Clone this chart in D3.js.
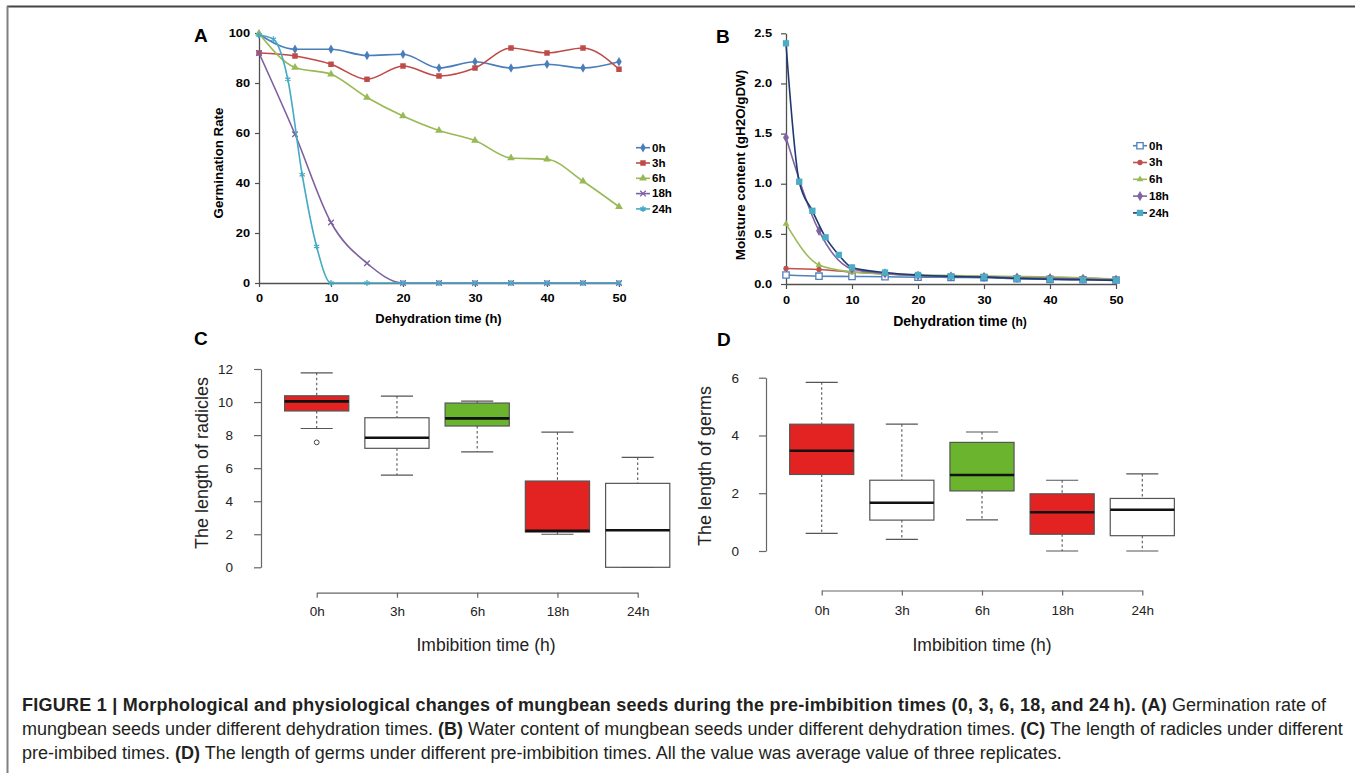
<!DOCTYPE html>
<html><head><meta charset="utf-8">
<script src="https://cdn.jsdelivr.net/npm/d3@7"></script>
<style>
body{margin:0;background:#fff;}
svg{display:block;}
</style></head><body>
<svg id="fig" width="1355" height="773"></svg>
<script>
// ---------------- DATA ----------------
const seriesNames = ["0h","3h","6h","18h","24h"];
const dehydHours = [0,5,10,15,20,25,30,35,40,45,50];
const dehydHours24 = [0,2,4,6,8,10,15,20,25,30,35,40,45,50];
const hourTicks = [0,10,20,30,40,50];

// Panel A: germination rate
const germ0h  = [99.5,93.5,93.5,91,91.5,86,88.5,86,87.5,86,88.5];
const germ3h  = [92,90.8,87.5,81.5,86.8,82.8,86,94,92,94,85.5];
const germ6h  = [99.8,86.2,83.5,74.2,66.8,61,57,50,49.5,40.7,30.5];
const germ18h = [92,59.5,24.2,7.9,0,0,0,0,0,0,0];
const germ24h = [99.2,97.5,81.5,43.3,14.6,0,0,0,0,0,0,0,0,0];
const germTicks = [0,20,40,60,80,100];

// Panel B: moisture content
const moist0h  = [0.09,0.078,0.075,0.072,0.068,0.066,0.064,0.052,0.046,0.042,0.04];
const moist3h  = [0.155,0.145,0.12,0.1,0.085,0.08,0.075,0.07,0.065,0.06,0.045];
const moist6h  = [0.6,0.19,0.12,0.1,0.09,0.085,0.08,0.075,0.07,0.062,0.05];
const moist18h = [1.46,0.53,0.15,0.105,0.082,0.075,0.07,0.062,0.056,0.05,0.042];
const moist24h = [2.4,1.02,0.73,0.465,0.29,0.165,0.115,0.09,0.076,0.07,0.056,0.047,0.042,0.036];
const moistTicks = [0,0.5,1,1.5,2,2.5];

// Panel C: radicle length boxplots
const imbCats = ["0h","3h","6h","18h","24h"];
const radLow  = [8.4,5.58,6.99,2.0,0];
const radQ1   = [9.46,7.2,8.55,2.13,0];
const radMed  = [10.04,7.84,9.01,2.21,2.24];
const radQ3   = [10.38,9.05,9.94,5.22,5.08];
const radHigh = [11.77,10.36,10.06,8.18,6.65];
const radOut  = [[7.56],[],[],[],[]];
const radTicks = [0,2,4,6,8,10,12];

// Panel D: germ length boxplots
const gerLow  = [0.61,0.4,1.08,0,0];
const gerQ1   = [2.65,1.07,2.08,0.58,0.53];
const gerMed  = [3.47,1.67,2.63,1.34,1.43];
const gerQ3   = [4.39,2.45,3.76,1.98,1.82];
const gerHigh = [5.84,4.39,4.12,2.45,2.67];
const gerOut  = [[],[],[],[],[]];
const gerTicks = [0,2,4,6];

// ---------------- STYLES ----------------
const F = '"Liberation Sans", Arial, Helvetica, sans-serif';
const colA = ["#4a7ebb","#be4b48","#98b954","#7d60a0","#46aac5"];
const symA = [d3.symbolDiamond, d3.symbolSquare, d3.symbolTriangle, d3.symbolTimes, d3.symbolAsterisk];
const sizeA = [26, 30, 26, 22, 26];
const lineB = ["#4f81bd","#c0504d","#9bbb59","#8064a2","#1f3a70"];
const markB = ["#4f81bd","#c0504d","#9bbb59","#8064a2","#4bacc6"];
const symB = [d3.symbolSquare, d3.symbolCircle, d3.symbolTriangle, d3.symbolDiamond, d3.symbolSquare];
const sizeB = [40, 22, 20, 30, 40];
const boxFill = ["#e32322","#ffffff","#6ab42e","#e32322","#ffffff"];

const svg = d3.select("#fig");

function stretch(sel, k){
  sel.each(function(){
    const w = this.getComputedTextLength();
    this.setAttribute("textLength", w*k);
    this.setAttribute("lengthAdjust","spacingAndGlyphs");
  });
}

// frame
svg.append("line").attr("x1",7).attr("x2",1355).attr("y1",6.5).attr("y2",6.5).attr("stroke","#444").attr("stroke-width",2);
svg.append("line").attr("x1",7.5).attr("x2",7.5).attr("y1",6).attr("y2",773).attr("stroke","#808080").attr("stroke-width",2);

function styleExcelAxis(g){
  g.select(".domain").attr("stroke","#505050").attr("stroke-width",1.3);
  g.selectAll(".tick line").attr("stroke","#505050").attr("stroke-width",1.2);
  g.selectAll(".tick text").attr("font-family",F).attr("font-weight","bold").attr("font-size",10).attr("fill","#000");
  stretch(g.selectAll(".tick text"), 1.28);
}

function panelLabel(t,x,y){
  svg.append("text").attr("x",x).attr("y",y).text(t).attr("font-family",F).attr("font-weight","bold").attr("font-size",19).attr("fill","#000");
}

// ---------------- PANEL A ----------------
const xA = d3.scaleLinear().domain([0,50]).range([259,619]);
const yA = d3.scaleLinear().domain([0,100]).range([283,33]);
const gA = svg.append("g");
gA.append("g").attr("transform","translate(259,0)")
  .call(d3.axisLeft(yA).tickValues(germTicks).tickSize(4).tickPadding(5).tickSizeOuter(0)).call(styleExcelAxis);
gA.append("g").attr("transform",`translate(0,${yA(0)})`)
  .call(d3.axisBottom(xA).tickValues(hourTicks).tickSize(4).tickPadding(8).tickSizeOuter(0)).call(styleExcelAxis);

const seriesA = [
  {xs: dehydHours, ys: germ0h},
  {xs: dehydHours, ys: germ3h},
  {xs: dehydHours, ys: germ6h},
  {xs: dehydHours, ys: germ18h},
  {xs: dehydHours24, ys: germ24h}
];
function drawSeries(g, series, xs, ys, lineCols, markCols, syms, sizes, hollow){
  series.forEach((s,k)=>{
    const pts = s.ys.map((v,i)=>[s.xs[i], v]);
    const line = d3.line().x(d=>xs(d[0])).y(d=>ys(d[1])).curve(d3.curveMonotoneX);
    g.append("path").attr("d",line(pts)).attr("fill","none").attr("stroke",lineCols[k]).attr("stroke-width",1.6);
    const stroked = (syms[k]===d3.symbolTimes || syms[k]===d3.symbolAsterisk);
    g.selectAll(null).data(pts).join("path")
      .attr("transform",d=>`translate(${xs(d[0])},${ys(d[1])})`)
      .attr("d", d3.symbol().type(syms[k]).size(sizes[k]))
      .attr("fill", stroked ? "none" : (hollow && hollow[k] ? "#fff" : markCols[k]))
      .attr("stroke", stroked || (hollow && hollow[k]) ? markCols[k] : "none")
      .attr("stroke-width", 1.3);
  });
}
drawSeries(gA, seriesA, xA, yA, colA, colA, symA, sizeA, null);

function legend(g, x0, y0, step, lineCols, markCols, syms, sizes, hollow){
  seriesNames.forEach((n,k)=>{
    const y = y0 + k*step;
    g.append("line").attr("x1",x0).attr("x2",x0+14).attr("y1",y).attr("y2",y).attr("stroke",lineCols[k]).attr("stroke-width",1.6);
    const stroked = (syms[k]===d3.symbolTimes || syms[k]===d3.symbolAsterisk);
    g.append("path").attr("transform",`translate(${x0+7},${y})`)
      .attr("d", d3.symbol().type(syms[k]).size(sizes[k]))
      .attr("fill", stroked ? "none" : (hollow && hollow[k] ? "#fff" : markCols[k]))
      .attr("stroke", stroked || (hollow && hollow[k]) ? markCols[k] : "none").attr("stroke-width",1.3);
    const t = g.append("text").attr("x",x0+16).attr("y",y+3.8).text(n)
      .attr("font-family",F).attr("font-weight","bold").attr("font-size",10.5).attr("fill","#000");
    stretch(t, 1.1);
  });
}
legend(gA, 636, 147.7, 15.3, colA, colA, symA, sizeA, null);

gA.append("text").attr("transform","translate(223,163) rotate(-90)").attr("text-anchor","middle")
  .text("Germination Rate").attr("font-family",F).attr("font-weight","bold").attr("font-size",13.3).attr("fill","#000");
gA.append("text").attr("x",438.5).attr("y",323).attr("text-anchor","middle")
  .text("Dehydration time (h)").attr("font-family",F).attr("font-weight","bold").attr("font-size",13).attr("fill","#000");
panelLabel("A",194,42);

// ---------------- PANEL B ----------------
const xB = d3.scaleLinear().domain([0,50]).range([786,1116]);
const yB = d3.scaleLinear().domain([0,2.5]).range([284,33.3]);
const gB = svg.append("g");
gB.append("g").attr("transform","translate(786,0)")
  .call(d3.axisLeft(yB).tickValues(moistTicks).tickFormat(d3.format(".1f")).tickSize(5).tickPadding(9).tickSizeOuter(0)).call(styleExcelAxis);
gB.append("g").attr("transform",`translate(0,${yB(0)})`)
  .call(d3.axisBottom(xB).tickValues(hourTicks).tickSize(5).tickPadding(8).tickSizeOuter(0)).call(styleExcelAxis);
const seriesB = [
  {xs: dehydHours, ys: moist0h},
  {xs: dehydHours, ys: moist3h},
  {xs: dehydHours, ys: moist6h},
  {xs: dehydHours, ys: moist18h},
  {xs: dehydHours24, ys: moist24h}
];
const hollowB = [true,false,false,false,false];
drawSeries(gB, seriesB, xB, yB, lineB, markB, symB, sizeB, hollowB);
legend(gB, 1133, 145.7, 16.8, lineB, markB, symB, sizeB, hollowB);

gB.append("text").attr("transform","translate(745,165) rotate(-90)").attr("text-anchor","middle")
  .text("Moisture content (gH2O/gDW)").attr("font-family",F).attr("font-weight","bold").attr("font-size",13.4).attr("fill","#000");
const tB = gB.append("text").attr("x",960).attr("y",326).attr("text-anchor","middle")
  .attr("font-family",F).attr("font-weight","bold").attr("fill","#000");
tB.append("tspan").attr("font-size",14).text("Dehydration time ");
tB.append("tspan").attr("font-size",12).text("(h)");
panelLabel("B",716,43);

// ---------------- BOX PANELS ----------------
function styleRAxis(g, fs){
  g.select(".domain").attr("stroke","#666").attr("stroke-width",1.2);
  g.selectAll(".tick line").attr("stroke","#666").attr("stroke-width",1.2);
  g.selectAll(".tick text").attr("font-family",F).attr("font-size",fs).attr("fill","#222");
}
function drawBoxes(g, x, y, low, q1, med, q3, high, outs){
  const bw = x.step()*0.8, cw = bw/2;
  const idx = imbCats.map((c,i)=>i);
  const dash = {stroke:"#555","stroke-width":1.1,"stroke-dasharray":"2.5,2.5"};
  g.selectAll(null).data(idx).join("line")
    .attr("x1",i=>x(imbCats[i])).attr("x2",i=>x(imbCats[i]))
    .attr("y1",i=>y(high[i])).attr("y2",i=>y(q3[i]))
    .attr("stroke",dash.stroke).attr("stroke-width",dash["stroke-width"]).attr("stroke-dasharray",dash["stroke-dasharray"]);
  g.selectAll(null).data(idx).join("line")
    .attr("x1",i=>x(imbCats[i])).attr("x2",i=>x(imbCats[i]))
    .attr("y1",i=>y(q1[i])).attr("y2",i=>y(low[i]))
    .attr("stroke",dash.stroke).attr("stroke-width",dash["stroke-width"]).attr("stroke-dasharray",dash["stroke-dasharray"]);
  [high, low].forEach(arr=>{
    g.selectAll(null).data(idx).join("line")
      .attr("x1",i=>x(imbCats[i])-cw/2).attr("x2",i=>x(imbCats[i])+cw/2)
      .attr("y1",i=>y(arr[i])).attr("y2",i=>y(arr[i]))
      .attr("stroke","#555").attr("stroke-width",1.2);
  });
  g.selectAll(null).data(idx).join("rect")
    .attr("x",i=>x(imbCats[i])-bw/2).attr("width",bw)
    .attr("y",i=>y(q3[i])).attr("height",i=>y(q1[i])-y(q3[i]))
    .attr("fill",i=>boxFill[i]).attr("stroke","#555").attr("stroke-width",1.2);
  g.selectAll(null).data(idx).join("line")
    .attr("x1",i=>x(imbCats[i])-bw/2).attr("x2",i=>x(imbCats[i])+bw/2)
    .attr("y1",i=>y(med[i])).attr("y2",i=>y(med[i]))
    .attr("stroke","#111").attr("stroke-width",2.6);
  const op = [];
  outs.forEach((a,i)=>a.forEach(v=>op.push([i,v])));
  g.selectAll(null).data(op).join("circle")
    .attr("cx",d=>x(imbCats[d[0]])).attr("cy",d=>y(d[1])).attr("r",2.4)
    .attr("fill","none").attr("stroke","#444").attr("stroke-width",1);
}

// ---------------- PANEL C ----------------
const xC = d3.scalePoint().domain(imbCats).range([316.7,637.7]);
const yC = d3.scaleLinear().domain([0,12]).range([567.3,369]);
const gC = svg.append("g");
gC.append("g").attr("transform","translate(261,0)")
  .call(d3.axisLeft(yC).tickValues(radTicks).tickFormat(d3.format("d")).tickSize(7).tickPadding(21).tickSizeOuter(0)).call(styleRAxis, 13.5);
gC.append("g").attr("transform","translate(0,592.7)")
  .call(d3.axisBottom(xC).tickSize(5).tickPadding(9).tickSizeOuter(0)).call(styleRAxis, 13.5);
drawBoxes(gC, xC, yC, radLow, radQ1, radMed, radQ3, radHigh, radOut);
gC.append("text").attr("transform","translate(208,463) rotate(-90)").attr("text-anchor","middle")
  .text("The length of radicles").attr("font-family",F).attr("font-size",18).attr("fill","#222");
gC.append("text").attr("x",486).attr("y",651).attr("text-anchor","middle")
  .text("Imbibition time (h)").attr("font-family",F).attr("font-size",17.5).attr("fill","#222");
panelLabel("C",194,345);

// ---------------- PANEL D ----------------
const xD = d3.scalePoint().domain(imbCats).range([821.7,1142.3]);
const yD = d3.scaleLinear().domain([0,6]).range([551,377.7]);
const gD = svg.append("g");
gD.append("g").attr("transform","translate(766,0)")
  .call(d3.axisLeft(yD).tickValues(gerTicks).tickFormat(d3.format("d")).tickSize(7).tickPadding(20).tickSizeOuter(0)).call(styleRAxis, 13.5);
gD.append("g").attr("transform","translate(0,590.5)")
  .call(d3.axisBottom(xD).tickSize(5).tickPadding(10).tickSizeOuter(0)).call(styleRAxis, 13.5);
drawBoxes(gD, xD, yD, gerLow, gerQ1, gerMed, gerQ3, gerHigh, gerOut);
gD.append("text").attr("transform","translate(711,466) rotate(-90)").attr("text-anchor","middle")
  .text("The length of germs").attr("font-family",F).attr("font-size",18).attr("fill","#222");
gD.append("text").attr("x",982).attr("y",651).attr("text-anchor","middle")
  .text("Imbibition time (h)").attr("font-family",F).attr("font-size",17.5).attr("fill","#222");
panelLabel("D",717,346);

// ---------------- CAPTION ----------------
const captionLines = [
  [["FIGURE 1 | Morphological and physiological changes of mungbean seeds during the pre-imbibition times (0, 3, 6, 18, and 24\u2009h). (A)",true],[" Germination rate of",false]],
  [["mungbean seeds under different dehydration times. ",false],["(B)",true],[" Water content of mungbean seeds under different dehydration times. ",false],["(C)",true],[" The length of radicles under different",false]],
  [["pre-imbibed times. ",false],["(D)",true],[" The length of germs under different pre-imbibition times. All the value was average value of three replicates.",false]]
];
const capBase = [711, 735, 759];
const capTexts = captionLines.map((ln,i)=>{
  const t = svg.append("text").attr("x",22).attr("y",capBase[i]).attr("font-family",F).attr("font-size",16).attr("fill","#231f20");
  ln.forEach(seg=>t.append("tspan").attr("font-weight",seg[1]?"bold":"normal").text(seg[0]));
  return t;
});
const w2 = capTexts[1].node().getComputedTextLength();
const fs = 16*1321/w2;
capTexts.forEach(t=>t.attr("font-size",fs));
// widen bold heading of line 1 to match the reference's right edge
const boldSpan = capTexts[0].select("tspan");
const w1 = capTexts[0].node().getComputedTextLength();
const nB = captionLines[0][0][0].length;
boldSpan.attr("letter-spacing", Math.max(0,(1304 - w1)/nB));
</script>
</body></html>
